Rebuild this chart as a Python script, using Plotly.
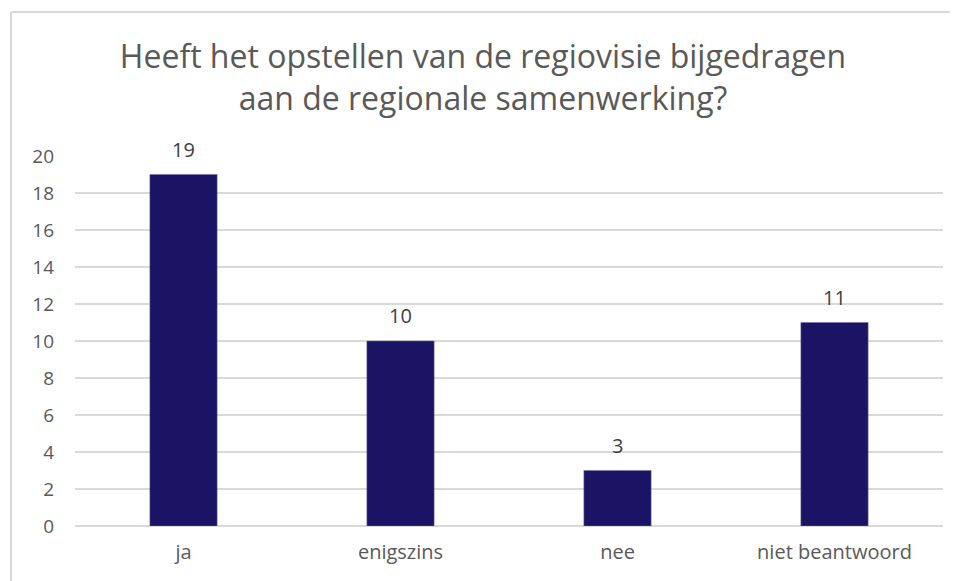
import plotly.graph_objects as go

CATEGORIES = ["ja", "enigszins", "nee", "niet beantwoord"]
VALUES = [19, 10, 3, 11]
Y_TICKS = [0, 2, 4, 6, 8, 10, 12, 14, 16, 18, 20]

TITLE = "Heeft het opstellen van de regiovisie bijgedragen<br>aan de regionale samenwerking?"

BAR_COLOR = "#1B1464"
GRID_COLOR = "#D9D9D9"
TEXT_COLOR = "#595959"
FONT = "Open Sans, Noto Sans, sans-serif"

fig = go.Figure(
    go.Bar(
        x=CATEGORIES,
        y=VALUES,
        width=0.31,
        marker_color=BAR_COLOR,
        marker_line=dict(color="#6E6AA0", width=0.5),
        hoverinfo="skip",
    )
)

# value labels sit a little higher above the bars than plotly's "outside" text
for cat, val in zip(CATEGORIES, VALUES):
    fig.add_annotation(
        x=cat, y=val, text=str(val), showarrow=False,
        yanchor="bottom", yshift=10,
        font=dict(family=FONT, size=20, color="#404040"),
    )

# thin frame: only top and left edges are visible in the crop
fig.add_shape(type="line", xref="paper", yref="paper",
              x0=-0.0737, x1=1.2, y0=1.389, y1=1.389,
              line=dict(color="#D9D9D9", width=2))
fig.add_shape(type="line", xref="paper", yref="paper",
              x0=-0.0737, x1=-0.0737, y0=-0.3, y1=1.389,
              line=dict(color="#D9D9D9", width=2))

# the page body adds an 8px offset, so the figure is sized 8px smaller
fig.update_layout(
    width=950,
    height=573,
    paper_bgcolor="white",
    plot_bgcolor="white",
    margin=dict(l=67, r=15, t=148, b=55),
    showlegend=False,
    font=dict(family=FONT, color=TEXT_COLOR),
    title=dict(
        text=TITLE,
        x=0.5, xanchor="center",
        y=0.895, yanchor="middle",
        font=dict(family=FONT, size=32, color=TEXT_COLOR),
    ),
)
fig.update_xaxes(
    showgrid=False, showline=False, zeroline=False,
    tickfont=dict(family=FONT, size=20, color=TEXT_COLOR),
    ticklabelstandoff=12,
)
fig.update_yaxes(
    range=[0, 20], tickvals=Y_TICKS,
    showgrid=True, gridcolor=GRID_COLOR, gridwidth=2,
    zeroline=True, zerolinecolor=GRID_COLOR, zerolinewidth=2,
    showline=False,
    tickfont=dict(family=FONT, size=19, color=TEXT_COLOR),
    ticklabelstandoff=20,
)

fig.write_html("out.html")
